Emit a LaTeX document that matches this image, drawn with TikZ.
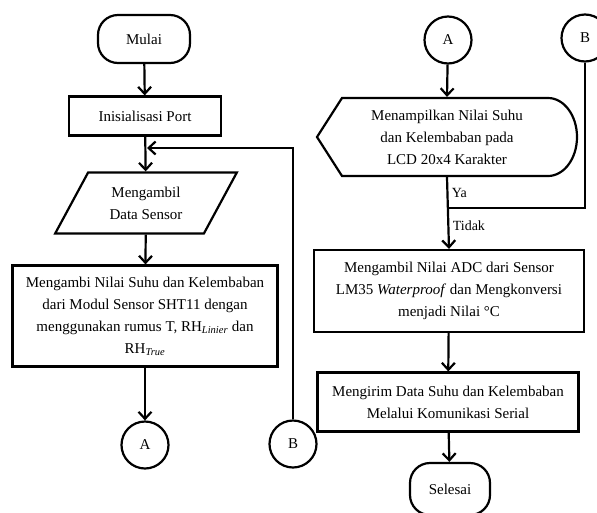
\documentclass[tikz,border=0pt]{standalone}
\usepackage{fontspec}
\setmainfont{Liberation Serif}
\usetikzlibrary{shapes.geometric,arrows.meta}
\begin{document}
\begin{tikzpicture}[x=1pt,y=-1pt,line width=2.2pt,
	every node/.style={font=\fontsize{15}{22}\selectfont,align=center},
	arr/.style={-{Straight Barb[length=7pt,width=13pt,line width=2.2pt]}},
	terminal/.style={draw,rectangle,rounded corners=20pt,minimum width=#1,minimum height=48pt},
	proses/.style={draw,rectangle,minimum width=#1,inner sep=2pt},
	konektor/.style={draw,circle,minimum size=47pt,inner sep=0pt},
	masukan/.style={draw,trapezium,trapezium left angle=60,trapezium right angle=120,trapezium stretches=true,minimum width=182pt,minimum height=61pt},
	label/.style={font=\fontsize{14}{16}\selectfont,anchor=west}]
				\useasboundingbox (0,0) rectangle (597,512);
				\def\kiri{145};
				\def\kanan{449};
				\node[terminal=92pt] (mulai) at (144,39) {Mulai};
				\node[proses=152pt,minimum height=39pt] (init) at (\kiri,116) {Inisialisasi Port};
				\node[masukan] (data) at (146,203) {Mengambil\\Data Sensor};
				\node[proses=265pt,minimum height=101pt] (rumus) at (\kiri,316) {Mengambi Nilai Suhu dan Kelembaban\\dari Modul Sensor SHT11 dengan\\menggunakan rumus T, RH\textsubscript{\textit{Linier}} dan\\RH\textsubscript{\textit{True}}};
				\node[konektor] (a1) at (\kiri,445) {A};
				\node[konektor] (b1) at (293,444) {B};
				\coordinate (balik) at (147,148);
				\node[konektor] (a2) at (448,40) {A};
				\node[konektor] (b2) at (585,38) {B};
				\node[minimum width=260pt,minimum height=78pt] (lcd) at (447,137) {Menampilkan Nilai Suhu\\dan Kelembaban pada\\LCD 20x4 Karakter};
				\draw (317,137) -- (342,98) -- (548,98) arc[start angle=-90,end angle=90,x radius=29,y radius=39] -- (342,176) -- cycle;
				\coordinate (gabung) at (448,208);
				\node[proses=270pt,minimum height=82pt] (adc) at (\kanan,291) {Mengambil Nilai ADC dari Sensor\\LM35 \textit{Waterproof} dan Mengkonversi\\menjadi Nilai °C};
				\node[proses=261pt,minimum height=59pt] (kirim) at (448,402) {Mengirim Data Suhu dan Kelembaban\\Melalui Komunikasi Serial};
				\node[terminal=80pt,minimum height=52pt] (selesai) at (450,489) {Selesai};
				\draw[arr] (mulai) -- (init);
				\draw[arr] (init) -- (data);
				\draw[arr] (data) -- (rumus);
				\draw[arr] (rumus) -- (a1);
				\draw[arr] (b1) |- (balik);
				\draw[arr] (a2) -- (lcd.north);
				\draw[arr] (lcd.south) -- (adc.north) node[label,pos=0.22] {Ya} node[label,pos=0.68] {Tidak};
				\draw (b2) |- (gabung);
				\draw[arr] (adc) -- (kirim);
				\draw[arr] (kirim) -- (selesai);
			\end{tikzpicture}
\end{document}
